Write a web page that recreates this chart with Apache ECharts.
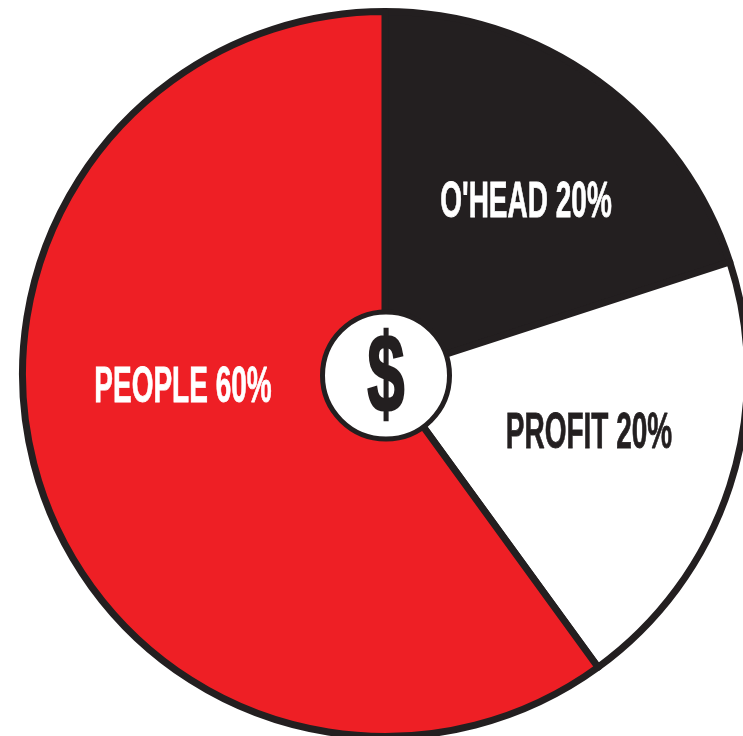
<!DOCTYPE html>
<html>
<head>
<meta charset="utf-8">
<style>html,body{margin:0;padding:0;background:#fff;overflow:hidden}#chart{width:743px;height:736px}</style>
<script src="https://cdn.jsdelivr.net/npm/echarts@6/dist/echarts.min.js"></script>
</head>
<body>
<div id="chart"></div>
<script>
// Where each dollar of revenue goes
const categories = ["O'HEAD", "PROFIT", "PEOPLE"];
const shares = [20, 20, 60];
const hubSymbol = "$";

const INK = "#231f20";
const RED = "#ee1f25";
const sliceColors = [INK, "#ffffff", RED];
const labelColors = ["#ffffff", INK, "#ffffff"];
const labelCentres = [[526, 203], [589, 434], [183, 388]];

const chart = echarts.init(document.getElementById("chart"), null, { renderer: "canvas" });

const labelFont = 'bold 50px "Liberation Sans Narrow", "Liberation Sans", sans-serif';

chart.setOption({
  animation: false,
  backgroundColor: "#ffffff",
  series: [
    {
      type: "pie",
      silent: true,
      center: [385, 374],
      radius: [0, 362.5],
      startAngle: 90,
      clockwise: true,
      label: { show: false },
      labelLine: { show: false },
      itemStyle: { borderColor: INK, borderWidth: 7 },
      data: categories.map((name, i) => ({
        name,
        value: shares[i],
        itemStyle: { color: sliceColors[i] }
      }))
    },
    {
      // Centre hub that carries the dollar sign
      type: "pie",
      silent: true,
      center: [386, 375.5],
      radius: [0, 63.5],
      label: { show: false },
      labelLine: { show: false },
      itemStyle: { color: "#ffffff", borderColor: INK, borderWidth: 5 },
      data: [{ name: hubSymbol, value: 1 }]
    }
  ],
  graphic: {
    elements: [
      ...categories.map((name, i) => ({
        type: "text",
        silent: true,
        z: 10,
        x: labelCentres[i][0],
        y: labelCentres[i][1],
        scaleX: 0.56,
        style: {
          text: name + " " + shares[i] + "%",
          font: labelFont,
          fill: labelColors[i],
          stroke: labelColors[i],
          lineWidth: 0.8,
          align: "center",
          verticalAlign: "middle"
        }
      })),
      {
        type: "text",
        silent: true,
        z: 10,
        x: 386,
        y: 381,
        scaleX: 0.6,
        style: {
          text: hubSymbol,
          font: 'bold 112px "Liberation Sans Narrow", "Liberation Sans", sans-serif',
          fill: INK,
          stroke: INK,
          lineWidth: 2.5,
          align: "center",
          verticalAlign: "middle"
        }
      }
    ]
  }
});
</script>
</body>
</html>
